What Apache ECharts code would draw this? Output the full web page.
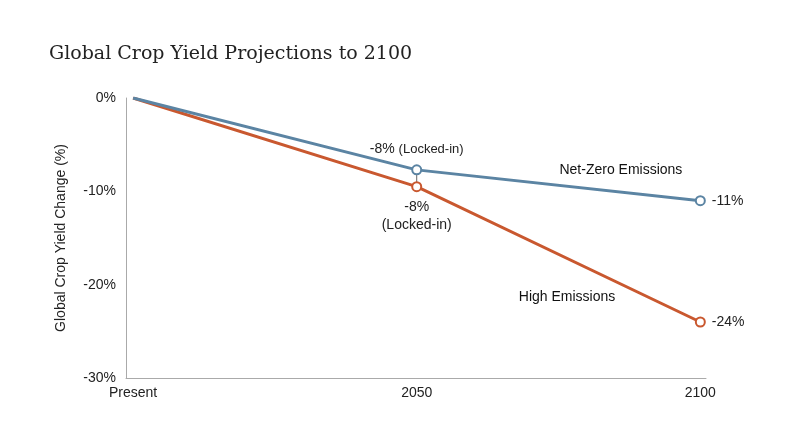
<!DOCTYPE html>
<html><head><meta charset="utf-8">
<script src="https://cdn.jsdelivr.net/npm/echarts@6/dist/echarts.min.js"></script>
<style>html,body{margin:0;background:#fff}#c{width:800px;height:447px}</style>
</head><body><div id="c"></div>
<script>
const categories = ['Present', '2050', '2100'];
const netZero = [0, -7.7, -11.0];
const highEm = [0, -9.5, -24.0];
const yTicks = [0, -10, -20, -30];
const blue = '#5b84a3', orange = '#c9582f';
const chart = echarts.init(document.getElementById('c'));
const font = 'Helvetica, Arial, "Liberation Sans", sans-serif';
const pts = a => a.map((v, i) => [i, v]);
chart.setOption({
  animation: false,
  title: { text: 'Global Crop Yield Projections to 2100', left: 44, top: 40,
    textStyle: { fontFamily: 'Georgia, "DejaVu Serif", serif', fontSize: 19, fontWeight: 'normal', color: '#222' } },
  grid: { left: 126, right: 94, top: 98, bottom: 69 },
  xAxis: { type: 'value', min: -0.025, max: 2.02,
    axisLine: { show: true, onZero: false, lineStyle: { color: '#aaa' } }, axisTick: { show: false }, splitLine: { show: false },
    axisLabel: { customValues: [0, 1, 2], formatter: v => categories[Math.round(v)], color: '#222', fontSize: 14, fontFamily: font, margin: 8 } },
  yAxis: { type: 'value', min: -30, max: 0, interval: 10,
    name: 'Global Crop Yield Change (%)', nameLocation: 'middle', nameGap: 58, nameRotate: 90,
    nameTextStyle: { fontSize: 14, color: '#222', fontFamily: font },
    axisLine: { show: true, onZero: false, lineStyle: { color: '#aaa' } }, axisTick: { show: false }, splitLine: { show: false },
    axisLabel: { customValues: yTicks, formatter: v => v + '%', color: '#222', fontSize: 14, fontFamily: font, margin: 10 } },
  series: [
    { type: 'line', data: [[1, netZero[1]], [1, highEm[1]]], symbol: 'none', lineStyle: { color: '#666', width: 1 }, z: 1 },
    { type: 'line', lineStyle: { color: orange, width: 3 },
      label: { show: true, fontSize: 14, fontFamily: font, color: '#222',
        formatter: p => p.dataIndex === 1 ? '-8%\n(Locked-in)' : p.dataIndex === 2 ? '-24%' : '' },
      data: pts(highEm).map((d, i) => ({ value: d, symbol: i === 0 ? 'none' : 'circle', symbolSize: 9, itemStyle: { color: '#fff', borderColor: orange, borderWidth: 2 },
        label: i === 2 ? { position: 'right', distance: 6 } : i === 1 ? { position: 'bottom', distance: 6, lineHeight: 18 } : {} })) },
    { type: 'line', lineStyle: { color: blue, width: 3 },
      label: { show: true, fontSize: 14, fontFamily: font, color: '#222',
        formatter: p => p.dataIndex === 1 ? '-8% {s|(Locked-in)}' : p.dataIndex === 2 ? '-11%' : '',
        rich: { s: { fontSize: 13, fontFamily: font, color: '#222' } } },
      data: pts(netZero).map((d, i) => ({ value: d, symbol: i === 0 ? 'none' : 'circle', symbolSize: 9, itemStyle: { color: '#fff', borderColor: blue, borderWidth: 2 },
        label: i === 2 ? { position: 'right', distance: 6 } : i === 1 ? { position: 'top', distance: 8 } : {} })) },
    { type: 'scatter', symbolSize: 1, silent: true, itemStyle: { color: 'rgba(0,0,0,0)', opacity: 1 },
      data: [{ value: [1.72, -7.7], name: 'Net-Zero Emissions' }, { value: [1.53, -21.3], name: 'High Emissions' }],
      label: { show: true, position: 'inside', formatter: p => p.name, fontSize: 14, fontFamily: font, color: '#111', opacity: 1 } }
  ]
});
</script></body></html>
